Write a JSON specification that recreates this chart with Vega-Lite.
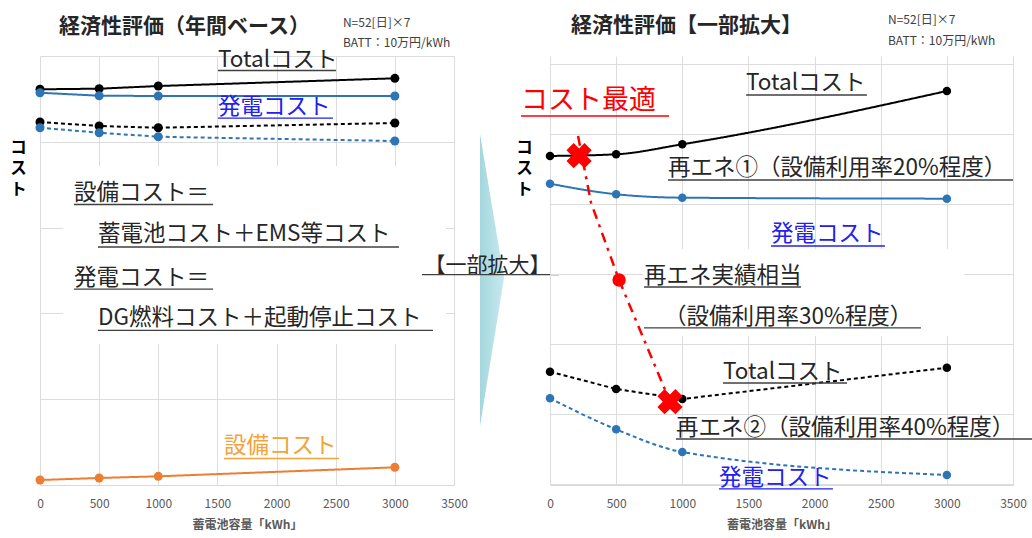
{
  "$schema": "https://vega.github.io/schema/vega-lite/v6.json",
  "padding": {"left": 10, "top": 13, "right": 0, "bottom": 4},
  "background": "white",
  "config": {
    "view": {"stroke": null},
    "font": "Noto Sans CJK JP",
    "axis": {"gridColor": "#dcdcdc", "domainColor": "#d9d9d9", "ticks": false, "labelColor": "#595959", "labelFontSize": 12, "titleColor": "#595959", "labelFlush": false}
  },
  "hconcat": [
    {
      "width": 414,
      "height": 429,
      "encoding": {
        "x": {"field": "x", "type": "quantitative", "scale": {"domain": [0, 3500], "nice": false, "zero": false},
          "axis": {"values": [0, 500, 1000, 1500, 2000, 2500, 3000, 3500], "format": "d", "title": "蓄電池容量「kWh」", "grid": true, "labelPadding": 13, "titleFontSize": 12, "titleFontWeight": "bold", "titlePadding": 10}},
        "y": {"field": "y", "type": "quantitative", "scale": {"domain": [0, 5], "nice": false, "zero": false},
          "axis": {"values": [0, 1, 2, 3, 4, 5], "labels": false, "domain": false, "grid": true, "title": null}}
      },
      "layer": [
        {
          "data": {"values": [{"x": 194, "x2": 3432, "y": 3.718, "y2": 1.643}]},
          "mark": {"type": "rect", "color": "white"},
          "encoding": {"x2": {"field": "x2"}, "y2": {"field": "y2"}}
        },
        {
          "data": {"values": [
            {"s": "T1", "x": 0, "y": 4.612}, {"s": "T1", "x": 500, "y": 4.619}, {"s": "T1", "x": 1000, "y": 4.65}, {"s": "T1", "x": 3000, "y": 4.74},
            {"s": "P1", "x": 0, "y": 4.572}, {"s": "P1", "x": 500, "y": 4.537}, {"s": "P1", "x": 1000, "y": 4.534}, {"s": "P1", "x": 3000, "y": 4.534},
            {"s": "T2", "x": 0, "y": 4.231}, {"s": "T2", "x": 500, "y": 4.184}, {"s": "T2", "x": 1000, "y": 4.164}, {"s": "T2", "x": 3000, "y": 4.219},
            {"s": "P2", "x": 0, "y": 4.164}, {"s": "P2", "x": 500, "y": 4.106}, {"s": "P2", "x": 1000, "y": 4.059}, {"s": "P2", "x": 3000, "y": 4.009},
            {"s": "E", "x": 0, "y": 0.058}, {"s": "E", "x": 500, "y": 0.082}, {"s": "E", "x": 1000, "y": 0.101}, {"s": "E", "x": 3000, "y": 0.206}
          ]},
          "layer": [
            {
              "mark": {"type": "line", "strokeWidth": 2},
              "encoding": {
                "color": {"field": "s", "type": "nominal", "scale": {"domain": ["P1", "P2", "E", "T1", "T2"], "range": ["#2E75B6", "#2E75B6", "#ED7D31", "#000000", "#000000"]}, "legend": null},
                "strokeDash": {"field": "s", "type": "nominal", "scale": {"domain": ["P1", "P2", "E", "T1", "T2"], "range": [[1, 0], [4, 3], [1, 0], [1, 0], [4, 3]]}, "legend": null}
              }
            },
            {
              "mark": {"type": "circle", "size": 81, "opacity": 1},
              "encoding": {
                "color": {"field": "s", "type": "nominal", "scale": {"domain": ["P1", "P2", "E", "T1", "T2"], "range": ["#2E75B6", "#2E75B6", "#ED7D31", "#000000", "#000000"]}, "legend": null}
              }
            }
          ]
        },
        {
          "data": {"values": [{"x": 3720, "y": 4.091, "y2": 0.688}, {"x": 3923, "y": 2.413, "y2": 2.413}]},
          "mark": {"type": "area", "color": {"gradient": "linear", "x1": 0, "y1": 0, "x2": 1, "y2": 0, "stops": [{"offset": 0, "color": "#a3d7dd"}, {"offset": 1, "color": "#c9e9ed"}]}},
          "encoding": {"y2": {"field": "y2"}}
        },
        {
          "data": {"values": [{"x": -182, "y": 4.021, "t": "コ\nス\nト"}]},
          "mark": {"type": "text", "align": "center", "baseline": "top", "fontSize": 16.5, "fontWeight": "bold", "lineBreak": "\n", "lineHeight": 21, "color": "#000000"},
          "encoding": {"text": {"field": "t"}}
        },
        {
          "data": {"values": [
            {"x": 1505, "y": 4.953, "t": "Totalコスト"},
            {"x": 287, "y": 3.403, "t": "設備コスト＝"},
            {"x": 490, "y": 2.925, "t": "蓄電池コスト＋EMS等コスト"},
            {"x": 287, "y": 2.413, "t": "発電コスト＝"},
            {"x": 490, "y": 1.946, "t": "DG燃料コスト＋起動停止コスト"}
          ]},
          "mark": {"type": "text", "align": "left", "baseline": "middle", "fontSize": 22.5, "color": "#262626"},
          "encoding": {"text": {"field": "t"}}
        },
        {
          "data": {"values": [{"x": 3250, "y": 2.552, "t": "【一部拡大】"}]},
          "mark": {"type": "text", "align": "left", "baseline": "middle", "fontSize": 21, "color": "#262626"},
          "encoding": {"text": {"field": "t"}}
        },
        {
          "data": {"values": [
            {"x": 1505, "x2": 2502, "y": 4.831},
            {"x": 287, "x2": 1463, "y": 3.269},
            {"x": 490, "x2": 3035, "y": 2.774},
            {"x": 287, "x2": 1463, "y": 2.284},
            {"x": 490, "x2": 3322, "y": 1.801},
            {"x": 3229, "x2": 4388, "y": 2.453}
          ]},
          "mark": {"type": "rule", "color": "#404040", "strokeWidth": 1.3},
          "encoding": {"x2": {"field": "x2"}}
        },
        {
          "data": {"values": [{"x": 1505, "y": 4.406, "t": "発電コスト"}]},
          "mark": {"type": "text", "align": "left", "baseline": "middle", "fontSize": 22.5, "color": "#2121f0"},
          "encoding": {"text": {"field": "t"}}
        },
        {
          "data": {"values": [{"x": 1505, "x2": 2477, "y": 4.277}]},
          "mark": {"type": "rule", "color": "#2121f0", "strokeWidth": 1.3},
          "encoding": {"x2": {"field": "x2"}}
        },
        {
          "data": {"values": [{"x": 1556, "y": 0.455, "t": "設備コスト"}]},
          "mark": {"type": "text", "align": "left", "baseline": "middle", "fontSize": 22.5, "color": "#F2A33A"},
          "encoding": {"text": {"field": "t"}}
        },
        {
          "data": {"values": [{"x": 1556, "x2": 2528, "y": 0.309}]},
          "mark": {"type": "rule", "color": "#F2A33A", "strokeWidth": 1.3},
          "encoding": {"x2": {"field": "x2"}}
        },
        {
          "data": {"values": [{"x": 161, "y": 5.338, "t": "経済性評価（年間ベース）"}]},
          "mark": {"type": "text", "align": "left", "baseline": "middle", "fontSize": 21, "fontWeight": "bold", "color": "#262626"},
          "encoding": {"text": {"field": "t"}}
        },
        {
          "data": {"values": [{"x": 2561, "y": 5.379, "t": "N=52[日]×7"}, {"x": 2561, "y": 5.155, "t": "BATT：10万円/kWh"}]},
          "mark": {"type": "text", "align": "left", "baseline": "middle", "fontSize": 12, "color": "#404040"},
          "encoding": {"text": {"field": "t"}}
        }
      ]
    },
    {
      "width": 463,
      "height": 429,
      "encoding": {
        "x": {"field": "x", "type": "quantitative", "scale": {"domain": [0, 3500], "nice": false, "zero": false},
          "axis": {"values": [0, 500, 1000, 1500, 2000, 2500, 3000, 3500], "format": "d", "title": "蓄電池容量「kWh」", "grid": true, "labelPadding": 13, "titleFontSize": 12, "titleFontWeight": "bold", "titlePadding": 10}},
        "y": {"field": "y", "type": "quantitative", "scale": {"domain": [-0.0143, 6.114], "nice": false, "zero": false},
          "axis": {"values": [0, 1, 2, 3, 4, 5, 6], "labels": false, "domain": false, "grid": true, "title": null}}
      },
      "layer": [
        {
          "data": {"values": [{"x": 703, "x2": 3130, "y": 3.357, "y2": 2.114}]},
          "mark": {"type": "rect", "color": "white"},
          "encoding": {"x2": {"field": "x2"}, "y2": {"field": "y2"}}
        },
        {
          "data": {"values": [
            {"s": "T1", "x": 0, "y": 4.686}, {"s": "T1", "x": 500, "y": 4.71}, {"s": "T1", "x": 1000, "y": 4.853}, {"s": "T1", "x": 3000, "y": 5.614},
            {"s": "P1", "x": 0, "y": 4.29}, {"s": "P1", "x": 500, "y": 4.139}, {"s": "P1", "x": 1000, "y": 4.09}, {"s": "P1", "x": 3000, "y": 4.076},
            {"s": "P2", "x": 0, "y": 1.224}, {"s": "P2", "x": 500, "y": 0.781}, {"s": "P2", "x": 1000, "y": 0.457}, {"s": "P2", "x": 3000, "y": 0.129}
          ]},
          "layer": [
            {
              "mark": {"type": "line", "strokeWidth": 2, "interpolate": "monotone"},
              "encoding": {
                "color": {"field": "s", "type": "nominal", "scale": {"domain": ["P1", "P2", "T1"], "range": ["#2E75B6", "#2E75B6", "#000000"]}, "legend": null},
                "strokeDash": {"field": "s", "type": "nominal", "scale": {"domain": ["P1", "P2", "T1"], "range": [[1, 0], [4, 3], [1, 0]]}, "legend": null}
              }
            },
            {
              "mark": {"type": "circle", "size": 72, "opacity": 1},
              "encoding": {
                "color": {"field": "s", "type": "nominal", "scale": {"domain": ["P1", "P2", "T1"], "range": ["#2E75B6", "#2E75B6", "#000000"]}, "legend": null}
              }
            }
          ]
        },
        {
          "data": {"values": [
            {"s": "T2", "x": 0, "y": 1.604}, {"s": "T2", "x": 500, "y": 1.357}, {"s": "T2", "x": 1000, "y": 1.214}, {"s": "T2", "x": 3000, "y": 1.661}
          ]},
          "layer": [
            {"mark": {"type": "line", "strokeWidth": 2, "color": "#000000", "strokeDash": [4, 3]}},
            {"mark": {"type": "circle", "size": 72, "opacity": 1, "color": "#000000"}}
          ]
        },
        {
          "data": {"values": [{"x": 212, "y": 4.971}, {"x": 310, "y": 4.02}, {"x": 522, "y": 2.914}, {"x": 907, "y": 1.176}]},
          "mark": {"type": "line", "color": "#FF0000", "strokeWidth": 2.5, "strokeDash": [10, 6, 3, 6]}
        },
        {
          "data": {"values": [{"x": 522, "y": 2.914}]},
          "mark": {"type": "circle", "color": "#FF0000", "size": 180, "opacity": 1}
        },
        {
          "data": {"values": [{"x": 220, "y": 4.69}, {"x": 907, "y": 1.176}]},
          "mark": {"type": "point", "shape": "cross", "angle": 45, "filled": true, "color": "#FF0000", "size": 650, "opacity": 1}
        },
        {
          "data": {"values": [{"x": -193, "y": 4.914, "t": "コ\nス\nト"}]},
          "mark": {"type": "text", "align": "center", "baseline": "top", "fontSize": 16.5, "fontWeight": "bold", "lineBreak": "\n", "lineHeight": 21, "color": "#000000"},
          "encoding": {"text": {"field": "t"}}
        },
        {
          "data": {"values": [
            {"x": 1482, "y": 5.729, "t": "Totalコスト"},
            {"x": 892, "y": 4.514, "t": "再エネ①（設備利用率20%程度）"},
            {"x": 711, "y": 2.971, "t": "再エネ実績相当"},
            {"x": 862, "y": 2.386, "t": "（設備利用率30%程度）"},
            {"x": 1308, "y": 1.6, "t": "Totalコスト"},
            {"x": 952, "y": 0.8, "t": "再エネ②（設備利用率40%程度）"}
          ]},
          "mark": {"type": "text", "align": "left", "baseline": "middle", "fontSize": 22.5, "color": "#262626"},
          "encoding": {"text": {"field": "t"}}
        },
        {
          "data": {"values": [
            {"x": 1482, "x2": 2396, "y": 5.557},
            {"x": 892, "x2": 3500, "y": 4.343},
            {"x": 711, "x2": 1897, "y": 2.814},
            {"x": 711, "x2": 2804, "y": 2.229},
            {"x": 1308, "x2": 2245, "y": 1.443},
            {"x": 952, "x2": 3651, "y": 0.643}
          ]},
          "mark": {"type": "rule", "color": "#404040", "strokeWidth": 1.3},
          "encoding": {"x2": {"field": "x2"}}
        },
        {
          "data": {"values": [{"x": 1671, "y": 3.571, "t": "発電コスト"}, {"x": 1277, "y": 0.086, "t": "発電コスト"}]},
          "mark": {"type": "text", "align": "left", "baseline": "middle", "fontSize": 22.5, "color": "#2121f0"},
          "encoding": {"text": {"field": "t"}}
        },
        {
          "data": {"values": [{"x": 1671, "x2": 2532, "y": 3.4}, {"x": 1277, "x2": 2139, "y": -0.071}]},
          "mark": {"type": "rule", "color": "#2121f0", "strokeWidth": 1.3},
          "encoding": {"x2": {"field": "x2"}}
        },
        {
          "data": {"values": [{"x": -219, "y": 5.471, "t": "コスト最適"}]},
          "mark": {"type": "text", "align": "left", "baseline": "middle", "fontSize": 27, "color": "#FF0000"},
          "encoding": {"text": {"field": "t"}}
        },
        {
          "data": {"values": [{"x": -219, "x2": 900, "y": 5.257}]},
          "mark": {"type": "rule", "color": "#FF0000", "strokeWidth": 1.5},
          "encoding": {"x2": {"field": "x2"}}
        },
        {
          "data": {"values": [{"x": 159, "y": 6.543, "t": "経済性評価【一部拡大】"}]},
          "mark": {"type": "text", "align": "left", "baseline": "middle", "fontSize": 21, "fontWeight": "bold", "color": "#262626"},
          "encoding": {"text": {"field": "t"}}
        },
        {
          "data": {"values": [{"x": 2555, "y": 6.629, "t": "N=52[日]×7"}, {"x": 2555, "y": 6.329, "t": "BATT：10万円/kWh"}]},
          "mark": {"type": "text", "align": "left", "baseline": "middle", "fontSize": 12, "color": "#404040"},
          "encoding": {"text": {"field": "t"}}
        }
      ]
    }
  ],
  "spacing": 96,
  "bounds": "flush"
}
